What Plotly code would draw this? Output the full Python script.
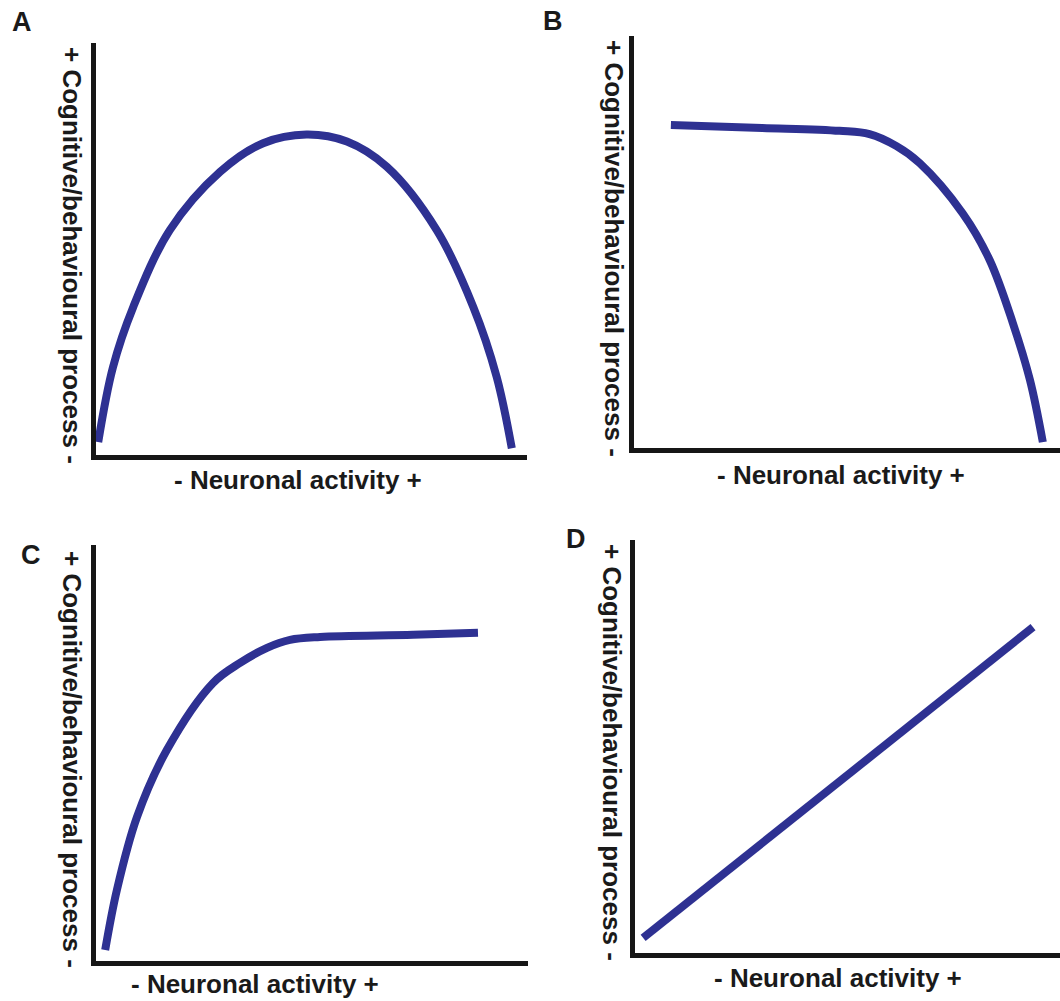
import plotly.graph_objects as go

W, H = 1060, 1001

# ---- data (abstract units, 0-100 on each axis) ----
a_x = [1.2, 4.6, 9.3, 17.7, 29.3, 39.2, 49.2, 58.5, 67.7, 79.2, 87.6, 93.0, 96.5]
a_y = [3.6, 21.7, 36.3, 54.8, 68.9, 75.8, 77.9, 76.2, 70.1, 54.8, 36.3, 19.4, 2.1]

b_x = [9.3, 30.6, 48.6, 55.6, 61.9, 67.3, 77.3, 83.6, 89.0, 93.0, 96.0]
b_y = [78.5, 77.8, 77.1, 76.3, 73.4, 69.3, 57.2, 45.9, 30.7, 16.9, 1.9]

c_x = [2.8, 5.5, 10.1, 17.0, 27.6, 33.8, 40.0, 45.3, 52.2, 73.6, 88.5]
c_y = [3.1, 17.5, 34.9, 51.0, 67.0, 71.8, 75.4, 77.3, 78.0, 78.5, 79.0]

d_x = [2.6, 93.7]
d_y = [4.1, 79.0]

panel_letters = ["A", "B", "C", "D"]
y_label = "+ Cognitive/behavioural process -"
x_label = "- Neuronal activity +"

# ---- layout geometry (pixels) ----
LW = 5
CURVE = "#2e3192"
AXC = "#161616"
FONT = "Liberation Sans, Arial, sans-serif"

# (axis-line x, right end, axis-line y, top)
geom = [
    (93, 527, 457, 43),
    (631, 1060, 450, 36),
    (93, 528, 963, 545),
    (632, 1060, 955, 540),
]
letter_pos = [(22, 22), (553, 21), (31, 555), (576, 539)]
ylab_pos = [(72, 255), (614, 248), (72, 759), (612, 752)]
xlab_pos = [(298, 480), (841, 475), (255, 984), (838, 978)]

series = [(a_x, a_y), (b_x, b_y), (c_x, c_y), (d_x, d_y)]

fig = go.Figure()
layout = dict(
    width=W, height=H, margin=dict(l=0, r=0, t=0, b=0),
    paper_bgcolor="white", plot_bgcolor="white", showlegend=False,
)
annotations = []

for i, ((x0, x1, y0, y1), (sx_, sy_)) in enumerate(zip(geom, series)):
    n = "" if i == 0 else str(i + 1)
    left = x0 + LW / 2
    bottom = y0 - LW / 2
    kx = (x1 - x0) / 100.0
    ky = (y0 - y1) / 100.0
    layout["xaxis" + n] = dict(
        domain=[left / W, x1 / W], range=[(left - x0) / kx, 100],
        anchor="y" + n, showline=True, linewidth=LW, linecolor=AXC,
        showticklabels=False, ticks="", showgrid=False, zeroline=False,
    )
    layout["yaxis" + n] = dict(
        domain=[1 - bottom / H, 1 - y1 / H], range=[(y0 - bottom) / ky, 100],
        anchor="x" + n, showline=True, linewidth=LW, linecolor=AXC,
        showticklabels=False, ticks="", showgrid=False, zeroline=False,
    )
    fig.add_trace(go.Scatter(
        x=sx_, y=sy_, mode="lines", xaxis="x" + n, yaxis="y" + n,
        line=dict(color=CURVE, width=8, shape="spline", smoothing=1.0),
        hoverinfo="skip",
    ))
    lx, ly = letter_pos[i]
    annotations.append(dict(
        text=panel_letters[i], x=lx / W, y=1 - ly / H, xref="paper", yref="paper",
        xanchor="center", yanchor="middle", showarrow=False,
        font=dict(family=FONT, size=27, color="#1a1a1a", weight="bold"),
    ))
    yx, yy = ylab_pos[i]
    annotations.append(dict(
        text=y_label, x=yx / W, y=1 - yy / H, xref="paper", yref="paper",
        xanchor="center", yanchor="middle", showarrow=False, textangle=90,
        font=dict(family=FONT, size=26, color="#1a1a1a", weight="bold"),
    ))
    xx, xy = xlab_pos[i]
    annotations.append(dict(
        text=x_label, x=xx / W, y=1 - xy / H, xref="paper", yref="paper",
        xanchor="center", yanchor="middle", showarrow=False,
        font=dict(family=FONT, size=26, color="#1a1a1a", weight="bold"),
    ))

layout["annotations"] = annotations
fig.update_layout(**layout)
fig.write_html(
    "out.html",
    config={"displayModeBar": False},
    post_script="document.body.style.margin='0';document.body.style.overflow='hidden';",
)
